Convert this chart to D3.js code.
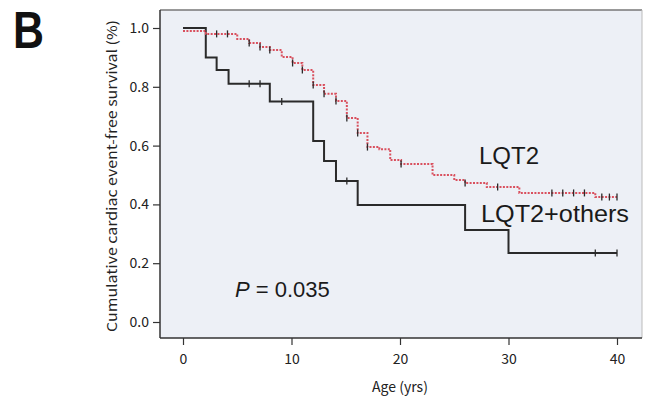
<!DOCTYPE html>
<html><head><meta charset="utf-8">
<script src="https://cdn.jsdelivr.net/npm/d3@7"></script>
<style>body{margin:0;background:#fff}svg{display:block}</style>
</head><body>
<svg id="c" width="647" height="405"></svg>
<script>
// ---- data ----
const xTicks = [0, 10, 20, 30, 40];
const yTicks = [0.0, 0.2, 0.4, 0.6, 0.8, 1.0];
const lqt2Times = [0, 2.1, 5.0, 6.1, 7.1, 8.0, 9.1, 10.1, 11.0, 12.0, 13.0, 14.1, 15.1, 16.1, 17.0, 18.1, 19.1, 20.1, 23.0, 25.0, 26.0, 28.0, 31.0, 38.0];
const lqt2Surv  = [0.99, 0.98, 0.963, 0.949, 0.935, 0.925, 0.901, 0.881, 0.857, 0.806, 0.776, 0.752, 0.694, 0.643, 0.595, 0.588, 0.551, 0.537, 0.500, 0.483, 0.473, 0.459, 0.439, 0.425];
const lqt2End = 40;
const lqt2Censor = [3.1, 4.1, 6.1, 7.1, 8.0, 10.1, 11.0, 12.0, 13.0, 14.1, 15.1, 16.1, 17.0, 20.1, 26.0, 29.0, 34.0, 35.0, 36.0, 37.0, 38.6, 39.3, 40.0];
const othTimes = [0, 2.1, 3.1, 4.2, 8.0, 12.0, 13.0, 14.1, 16.1, 26.0, 30.0];
const othSurv  = [1.0, 0.90, 0.857, 0.81, 0.75, 0.616, 0.548, 0.48, 0.398, 0.313, 0.235];
const othEnd = 40;
const othCensor = [6.1, 7.1, 9.1, 15.1, 38.0, 40.0];

const svg = d3.select("#c");
const x = d3.scaleLinear().domain([0, 40]).range([183, 617]);
const y = d3.scaleLinear().domain([0, 1]).range([322, 28]);
const fx0 = x.invert(160), fx1 = x.invert(642);
const fy0 = y.invert(338), fy1 = y.invert(10);

// panel letter
svg.append("text").attr("x", 13).attr("y", 48).attr("font-family", "Liberation Sans, Arial, sans-serif")
  .attr("font-weight", "bold").attr("font-size", 52).attr("textLength", 31).attr("lengthAdjust", "spacingAndGlyphs")
  .attr("fill", "#111").text("B");

// plot background
svg.append("rect").attr("x", x(fx0)).attr("y", y(fy1)).attr("width", x(fx1) - x(fx0)).attr("height", y(fy0) - y(fy1))
  .attr("fill", "#edf0f6").attr("stroke", "none");
// frame
svg.append("line").attr("x1", x(fx0)).attr("x2", x(fx1)).attr("y1", y(fy1)).attr("y2", y(fy1)).attr("stroke", "#777").attr("stroke-width", 1.5);
svg.append("line").attr("x1", x(fx1)).attr("x2", x(fx1)).attr("y1", y(fy1)).attr("y2", y(fy0)).attr("stroke", "#bbb").attr("stroke-width", 1);

const axisFont = "'Noto Sans CJK JP', 'DejaVu Sans', sans-serif";
// y axis
const ya = svg.append("g").attr("transform", `translate(${x(fx0)},0)`)
  .call(d3.axisLeft(y).tickValues(yTicks).tickFormat(d3.format(".1f")).tickSize(7).tickSizeOuter(0).tickPadding(4));
ya.select(".domain").attr("d", `M0,${y(fy1)}V${y(fy0)}`).attr("stroke", "#333").attr("stroke-width", 1.5);
ya.selectAll(".tick line").attr("stroke", "#333").attr("stroke-width", 1.2);
ya.selectAll(".tick text").attr("font-family", axisFont).attr("font-size", 14).attr("fill", "#222");

// x axis
const xa = svg.append("g").attr("transform", `translate(0,${y(fy0)})`)
  .call(d3.axisBottom(x).tickValues(xTicks).tickSize(7).tickSizeOuter(0).tickPadding(9));
xa.select(".domain").attr("d", `M${x(fx0)},0H${x(fx1)}`).attr("stroke", "#333").attr("stroke-width", 1.5);
xa.selectAll(".tick line").attr("stroke", "#333").attr("stroke-width", 1.2);
xa.selectAll(".tick text").attr("font-family", axisFont).attr("font-size", 14).attr("fill", "#222");

// axis titles
svg.append("text").attr("x", 400).attr("y", 392).attr("text-anchor", "middle")
  .attr("font-family", axisFont).attr("font-size", 14).attr("fill", "#222").text("Age (yrs)");
svg.append("text").attr("transform", "translate(117,176) rotate(-90)").attr("text-anchor", "middle")
  .attr("font-family", axisFont).attr("font-size", 13.5).attr("fill", "#222")
  .attr("textLength", 312).attr("lengthAdjust", "spacingAndGlyphs")
  .text("Cumulative cardiac event-free survival (%)");

// curves
function stepPts(times, surv, end) {
  const pts = times.map((t, i) => [t, surv[i]]);
  pts.push([end, surv[surv.length - 1]]);
  return pts;
}
function survAt(times, surv, t) {
  let v = surv[0];
  for (let i = 0; i < times.length; i++) if (times[i] <= t) v = surv[i];
  return v;
}
const line = d3.line().x(d => x(d[0])).y(d => y(d[1])).curve(d3.curveStepAfter);

svg.append("path").datum(stepPts(othTimes, othSurv, othEnd)).attr("d", line)
  .attr("fill", "none").attr("stroke", "#2a2a2a").attr("stroke-width", 2);
svg.selectAll(".co").data(othCensor).join("line")
  .attr("x1", d => x(d)).attr("x2", d => x(d))
  .attr("y1", d => y(survAt(othTimes, othSurv, d)) - 3.5).attr("y2", d => y(survAt(othTimes, othSurv, d)) + 3.5)
  .attr("stroke", "#2a2a2a").attr("stroke-width", 1.3);

svg.append("path").datum(stepPts(lqt2Times, lqt2Surv, lqt2End)).attr("d", line)
  .attr("fill", "none").attr("stroke", "#d9505e").attr("stroke-width", 2).attr("stroke-dasharray", "2,1.4");
svg.selectAll(".cl").data(lqt2Censor).join("line")
  .attr("x1", d => x(d)).attr("x2", d => x(d))
  .attr("y1", d => y(survAt(lqt2Times, lqt2Surv, d)) - 3.5).attr("y2", d => y(survAt(lqt2Times, lqt2Surv, d)) + 3.5)
  .attr("stroke", "#2a2a2a").attr("stroke-width", 1.3);

// labels
const lf = "'Liberation Sans', Arial, sans-serif";
svg.append("text").attr("x", 479).attr("y", 164).attr("font-family", lf).attr("font-size", 24).attr("fill", "#1a1a1a").text("LQT2");
svg.append("text").attr("x", 481).attr("y", 222).attr("font-family", lf).attr("font-size", 24)
  .attr("textLength", 148).attr("lengthAdjust", "spacingAndGlyphs").attr("fill", "#1a1a1a").text("LQT2+others");
const pt = svg.append("text").attr("x", 235).attr("y", 297).attr("font-family", lf).attr("font-size", 22).attr("fill", "#1a1a1a");
pt.append("tspan").attr("font-style", "italic").text("P");
pt.append("tspan").text(" = 0.035");
</script>
</body></html>
